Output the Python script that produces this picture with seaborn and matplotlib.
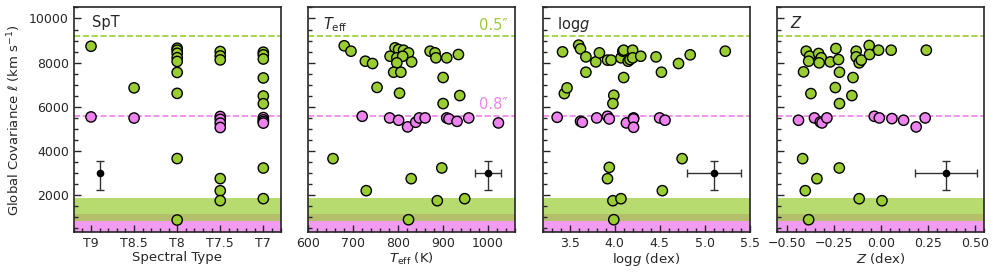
import numpy as np
import pandas as pd
import matplotlib
matplotlib.use("Agg")
import matplotlib.pyplot as plt
import seaborn as sns
from matplotlib.ticker import AutoMinorLocator

# colours
green = "yellowgreen"
pink = "violet"

# separation limits (dashed lines) and bands
ell_05 = 9200
ell_08 = 5590
green_band = (820, 1860)
pink_band = (0, 1140)

# --- SpT panel
spt_green = [9, 8.5, 8, 8, 8, 8, 8, 8, 8, 8, 8, 7.5, 7.5, 7.5, 7.5, 7.5, 7.5,
             7, 7, 7, 7, 7, 7, 7, 7]
spt_green_ell = [8740, 6850, 8650, 8560, 8420, 8220, 8050, 7550, 6600, 3640, 850,
                 8500, 8300, 8120, 2730, 2180, 1730,
                 8470, 8350, 8160, 7300, 6480, 6130, 3210, 1820]
spt_pink = [9, 8.5, 7.5, 7.5, 7.5, 7.5, 7, 7, 7, 7]
spt_pink_ell = [5530, 5480, 5550, 5420, 5250, 5050, 5500, 5400, 5320, 5250]

# --- Teff panel
teff_green = [680, 695, 727, 743, 753, 793, 801, 812, 823, 782, 797, 810, 830,
              797, 790, 806, 803, 871, 882, 884, 908, 934, 900, 900, 937, 897,
              655, 729, 829, 823, 887, 948]
teff_green_ell = [8760, 8515, 8060, 7955, 6870, 8667, 8590, 8560, 8440, 8286,
                  8214, 8286, 8030, 7985, 7560, 7560, 6610, 8515, 8440, 8214,
                  8214, 8364, 7320, 6136, 6500, 3213, 3636, 2182, 2727, 864,
                  1727, 1818]
teff_pink = [720, 781, 801, 821, 839, 847, 860, 908, 913, 931, 957, 1023]
teff_pink_ell = [5560, 5485, 5380, 5077, 5288, 5485, 5485, 5485, 5440, 5330,
                 5485, 5258]

# --- logg panel
logg_green = [3.42, 3.60, 3.62, 3.68, 3.68, 3.79, 3.83, 3.92, 3.96, 4.07, 4.09,
              4.10, 4.15, 4.17, 4.20, 4.20, 4.29, 4.10, 4.46, 4.52, 4.71, 4.84,
              5.23, 3.44, 3.47, 3.99, 3.98, 3.94, 3.92, 4.75, 4.53, 3.98, 4.07,
              3.99]
logg_green_ell = [8485, 8790, 8620, 8257, 7560, 8030, 8440, 8110, 8110, 8214,
                  8515, 8560, 8060, 8136, 8560, 8214, 8286, 7318, 8257, 7560,
                  7955, 8350, 8515, 6590, 6850, 6514, 6136, 3240, 2727, 3636,
                  2182, 1727, 1818, 864]
logg_pink = [3.36, 3.62, 3.64, 3.80, 3.92, 3.94, 4.13, 4.21, 4.21, 4.21, 4.50,
             4.56]
logg_pink_ell = [5515, 5333, 5290, 5485, 5560, 5440, 5258, 5485, 5440, 5060,
                 5485, 5380]

# --- Z panel
z_green = [-0.396, -0.378, -0.383, -0.33, -0.316, -0.327, -0.268, -0.238,
           -0.224, -0.219, -0.13, -0.13, -0.114, -0.103, -0.061, -0.059,
           -0.011, 0.056, 0.243, -0.41, -0.147, -0.241, -0.371, -0.153,
           -0.219, -0.415, -0.22, -0.339, -0.401, -0.114, 0.007, -0.383]
z_green_ell = [8515, 8286, 8060, 8410, 8214, 7985, 8030, 8636, 8136, 7560,
               8515, 8257, 7985, 8110, 8773, 8364, 8560, 8560, 8560, 7577,
               7318, 6864, 6590, 6500, 6136, 3636, 3213, 2727, 2182, 1818,
               1727, 864]
z_pink = [-0.437, -0.352, -0.321, -0.312, -0.286, -0.034, -0.007, 0.06, 0.122,
          0.189, 0.237]
z_pink_ell = [5380, 5485, 5300, 5258, 5485, 5560, 5485, 5455, 5380, 5077, 5485]

# typical uncertainty point
err_ell = 3000
err_ell_lo = 780
err_ell_hi = 520
err_x = [8.9, 1000, 5.1, 0.35]
err_xerr = [None, 29, 0.3, 0.165]

panel_names = ["SpT", r"$T_{\rm eff}$", r"log$g$", r"$Z$"]
xlabels = ["Spectral Type", r"$T_{\rm eff}$ (K)", r"log$g$ (dex)", r"$Z$ (dex)"]
xlims = [(9.2, 6.8), (600, 1060), (3.2, 5.5), (-0.55, 0.55)]
name_x = [0.09, 0.07, 0.07, 0.06]

panels = [
    (spt_green, spt_green_ell, spt_pink, spt_pink_ell),
    (teff_green, teff_green_ell, teff_pink, teff_pink_ell),
    (logg_green, logg_green_ell, logg_pink, logg_pink_ell),
    (z_green, z_green_ell, z_pink, z_pink_ell),
]

sns.set_style("ticks")
plt.rcParams["font.family"] = ["DejaVu Sans"]
plt.rcParams["mathtext.fontset"] = "dejavusans"

fig, axes = plt.subplots(1, 4, figsize=(9.97, 2.77), dpi=100, sharey=True)
fig.subplots_adjust(left=0.074, right=0.987, bottom=0.162, top=0.973, wspace=0.134)

for i, ax in enumerate(axes):
    xg, yg, xp, yp = panels[i]
    df = pd.DataFrame({
        "x": list(xg) + list(xp),
        "ell": list(yg) + list(yp),
        "sep": ["0.5"] * len(xg) + ["0.8"] * len(xp),
    })

    ax.axhspan(*pink_band, color=pink, alpha=0.8, lw=0, zorder=0)
    ax.axhspan(*green_band, color=green, alpha=0.7, lw=0, zorder=0)
    ax.axhline(ell_05, color=green, ls="--", lw=1.2, zorder=1)
    ax.axhline(ell_08, color=pink, ls="--", lw=1.2, zorder=1)

    sns.scatterplot(data=df, x="x", y="ell", hue="sep",
                    palette={"0.5": green, "0.8": pink},
                    s=55, edgecolor="black", linewidth=1.0,
                    legend=False, ax=ax, zorder=3)

    ax.errorbar(err_x[i], err_ell, yerr=[[err_ell_lo], [err_ell_hi]],
                xerr=err_xerr[i], fmt="o", color="black", ms=4.5,
                ecolor="#333333", elinewidth=1, capsize=3, zorder=4)

    ax.set_xlim(*xlims[i])
    ax.set_ylim(300, 10500)
    ax.set_xlabel(xlabels[i], fontsize=9.5, labelpad=1)
    ax.set_ylabel("")
    ax.text(name_x[i], 0.965, panel_names[i], transform=ax.transAxes,
            ha="left", va="top", fontsize=10.5)

    ax.tick_params(which="both", direction="in", top=False, right=False,
                   labelsize=9, width=1)
    ax.tick_params(which="major", length=5)
    ax.tick_params(which="minor", length=3)
    ax.yaxis.set_minor_locator(AutoMinorLocator(4))
    ax.xaxis.set_minor_locator(AutoMinorLocator())
    for sp in ax.spines.values():
        sp.set_linewidth(1.2)
        sp.set_visible(True)

axes[0].set_xticks([9, 8.5, 8, 7.5, 7])
axes[0].set_xticklabels(["T9", "T8.5", "T8", "T7.5", "T7"])
axes[0].xaxis.set_minor_locator(AutoMinorLocator(5))
axes[1].set_xticks([600, 700, 800, 900, 1000])
axes[2].set_xticks([3.5, 4.0, 4.5, 5.0, 5.5])
axes[3].set_xticks([-0.5, -0.25, 0.0, 0.25, 0.5])
axes[0].set_yticks([2000, 4000, 6000, 8000, 10000])
axes[0].set_ylabel(r"Global Covariance $\ell$ (km s$^{-1}$)", fontsize=9.5)

axes[1].text(1045, ell_05 + 150, "0.5″", color=green, ha="right", va="bottom",
             fontsize=10.5)
axes[1].text(1045, ell_08 + 150, "0.8″", color=pink, ha="right", va="bottom",
             fontsize=10.5)

fig.savefig("out.png", dpi=100)
